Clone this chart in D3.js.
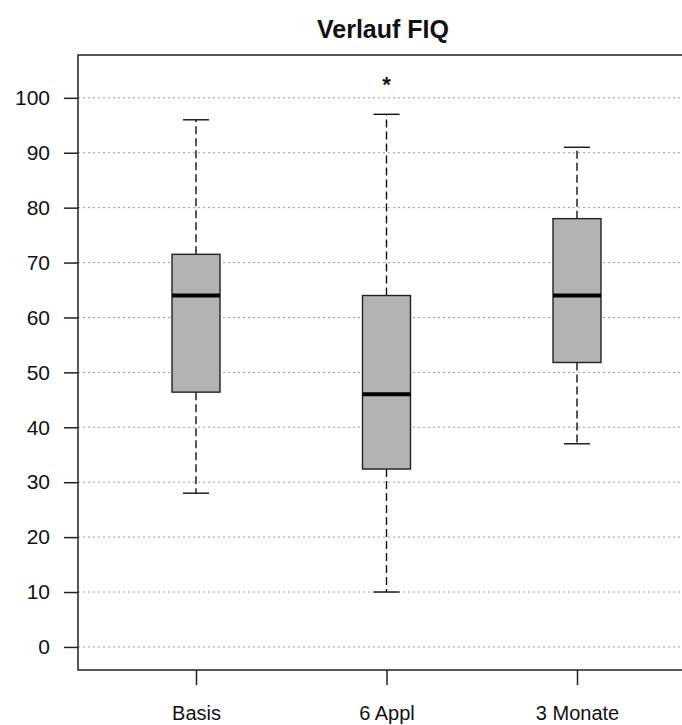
<!DOCTYPE html>
<html>
<head>
<meta charset="utf-8">
<script src="https://cdnjs.cloudflare.com/ajax/libs/d3/7.8.5/d3.min.js"></script>
<style>
  body { margin: 0; background: #fff; }
  svg { display: block; font-family: "Liberation Sans", Arial, sans-serif; }
</style>
</head>
<body>
<svg id="chart" width="682" height="725"></svg>
<script>
// data
var categories = ["Basis", "6 Appl", "3 Monate"];
var whiskerLow = [28, 10, 37];
var q1 = [46.4, 32.4, 51.8];
var medians = [64, 46, 64];
var q3 = [71.5, 64, 78];
var whiskerHigh = [96, 97, 91];
var outliers = [[], [103], []];
var yTicks = [0, 10, 20, 30, 40, 50, 60, 70, 80, 90, 100];

var svg = d3.select("#chart");

var plot = { left: 78, top: 55, right: 690, bottom: 670 };

var x = d3.scalePoint()
    .domain(categories)
    .range([196, 577]);

var y = d3.scaleLinear()
    .domain([-4.2, 107.8])
    .range([plot.bottom, plot.top]);

var boxWidth = 48;

// grid
svg.append("g").selectAll("line")
    .data(yTicks)
    .enter().append("line")
    .attr("x1", plot.left)
    .attr("x2", plot.right)
    .attr("y1", function(d) { return y(d); })
    .attr("y2", function(d) { return y(d); })
    .attr("stroke", "#999")
    .attr("stroke-width", 1)
    .attr("stroke-dasharray", "2,3");

var boxes = categories.map(function(c, i) {
    return {
        name: c,
        lo: whiskerLow[i], q1: q1[i], med: medians[i], q3: q3[i], hi: whiskerHigh[i],
        out: outliers[i]
    };
});

var g = svg.append("g").selectAll("g")
    .data(boxes)
    .enter().append("g")
    .attr("transform", function(d) { return "translate(" + x(d.name) + ",0)"; });

// whiskers
g.append("line")
    .attr("y1", function(d) { return y(d.q3); })
    .attr("y2", function(d) { return y(d.hi); })
    .attr("stroke", "#111").attr("stroke-width", 1.4).attr("stroke-dasharray", "8,4");
g.append("line")
    .attr("y1", function(d) { return y(d.q1); })
    .attr("y2", function(d) { return y(d.lo); })
    .attr("stroke", "#111").attr("stroke-width", 1.4).attr("stroke-dasharray", "8,4");

// staples
g.selectAll(".cap")
    .data(function(d) { return [d.lo, d.hi]; })
    .enter().append("line")
    .attr("x1", -13)
    .attr("x2", 13)
    .attr("y1", function(v) { return y(v); })
    .attr("y2", function(v) { return y(v); })
    .attr("stroke", "#111")
    .attr("stroke-width", 1.4);

g.append("rect")
    .attr("x", -boxWidth / 2)
    .attr("width", boxWidth)
    .attr("y", function(d) { return y(d.q3); })
    .attr("height", function(d) { return y(d.q1) - y(d.q3); })
    .attr("fill", "#b3b3b3")
    .attr("stroke", "#222")
    .attr("stroke-width", 1.4);

g.append("line")
    .attr("x1", -boxWidth / 2)
    .attr("x2", boxWidth / 2)
    .attr("y1", function(d) { return y(d.med); })
    .attr("y2", function(d) { return y(d.med); })
    .attr("stroke", "#000")
    .attr("stroke-width", 4);

g.selectAll(".out")
    .data(function(d) { return d.out; })
    .enter().append("text")
    .attr("y", function(v) { return y(v); })
    .attr("dy", "0.5em")
    .attr("text-anchor", "middle")
    .attr("font-size", 22)
    .attr("font-weight", "bold")
    .attr("fill", "#111")
    .text("*");

// frame (right side runs off the picture)
svg.append("path")
    .attr("d", "M" + plot.right + "," + plot.top + "H" + plot.left + "V" + plot.bottom + "H" + plot.right)
    .attr("fill", "none")
    .attr("stroke", "#222")
    .attr("stroke-width", 1.5);

// axes
var yAxis = svg.append("g")
    .attr("transform", "translate(" + plot.left + ",0)")
    .call(d3.axisLeft(y).tickValues(yTicks).tickSize(14).tickPadding(14));
yAxis.select(".domain").remove();
yAxis.selectAll("line").attr("stroke", "#222").attr("stroke-width", 1.5);
yAxis.selectAll("text").attr("font-size", 21).attr("fill", "#111")
    .style("font-family", "'Liberation Sans', Arial, sans-serif");

var xAxis = svg.append("g")
    .attr("transform", "translate(0," + plot.bottom + ")")
    .call(d3.axisBottom(x).tickSize(15).tickPadding(21));
xAxis.select(".domain").remove();
xAxis.selectAll("line").attr("stroke", "#222").attr("stroke-width", 1.5);
xAxis.selectAll("text").attr("font-size", 20).attr("fill", "#111")
    .style("font-family", "'Liberation Sans', Arial, sans-serif");

svg.append("text")
    .attr("x", 383)
    .attr("y", 38)
    .attr("text-anchor", "middle")
    .attr("font-size", 25)
    .attr("font-weight", "bold")
    .attr("fill", "#111")
    .text("Verlauf FIQ");
</script>
</body>
</html>
